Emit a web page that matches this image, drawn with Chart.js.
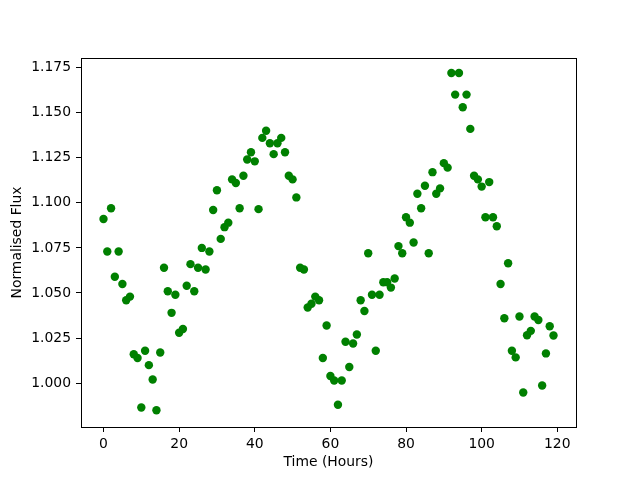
<!DOCTYPE html>
<html>
<head>
<meta charset="utf-8">
<script src="https://cdn.jsdelivr.net/npm/chart.js@4/dist/chart.umd.min.js"></script>
<style>
  html, body { margin: 0; padding: 0; background: #ffffff; }
  canvas { display: block; }
</style>
</head>
<body>
<canvas id="c" width="640" height="480"></canvas>
<script>
// Time in hours (one sample per hour)
const hours = [];
for (let i = 0; i < 120; i++) hours.push(i);

// Normalised flux values
const flux = [
  1.091, 1.073, 1.097, 1.059, 1.073, 1.055, 1.046, 1.048, 1.016, 1.014,
  0.9865, 1.018, 1.010, 1.002, 0.985, 1.017, 1.064, 1.051, 1.039, 1.049,
  1.028, 1.030, 1.054, 1.066, 1.051, 1.064, 1.075, 1.063, 1.073, 1.096,
  1.107, 1.080, 1.0865, 1.089, 1.113, 1.111, 1.097, 1.115, 1.124, 1.128,
  1.123, 1.0965, 1.136, 1.140, 1.133, 1.127, 1.133, 1.136, 1.128, 1.115,
  1.113, 1.103, 1.064, 1.063, 1.042, 1.044, 1.048, 1.046, 1.014, 1.032,
  1.004, 1.0015, 0.988, 1.0015, 1.023, 1.009, 1.022, 1.027, 1.046, 1.040,
  1.072, 1.049, 1.018, 1.049, 1.056, 1.056, 1.053, 1.058, 1.076, 1.072,
  1.092, 1.089, 1.078, 1.105, 1.097, 1.1095, 1.072, 1.117, 1.105, 1.108,
  1.122, 1.1195, 1.172, 1.160, 1.172, 1.153, 1.160, 1.141, 1.115, 1.113,
  1.109, 1.092, 1.1115, 1.092, 1.087, 1.055, 1.036, 1.0665, 1.018, 1.0143,
  1.037, 0.9948, 1.0266, 1.029, 1.037, 1.035, 0.9987, 1.0165, 1.0316, 1.0264
];

const xTicks = [0, 20, 40, 60, 80, 100, 120];
const yTicks = [1.000, 1.025, 1.050, 1.075, 1.100, 1.125, 1.150, 1.175];

const xLabel = 'Time (Hours)';
const yLabel = 'Normalised Flux';

const points = hours.map((h, i) => ({ x: h, y: flux[i] }));

const FONT = { family: '"DejaVu Sans", sans-serif', size: 13.9 };

const frame = {
  id: 'frame',
  beforeDraw(chart) {
    const ctx = chart.ctx;
    ctx.save();
    ctx.fillStyle = '#ffffff';
    ctx.fillRect(0, 0, chart.width, chart.height);
    ctx.restore();
  },
  afterDraw(chart) {
    const a = chart.chartArea;
    const ctx = chart.ctx;
    ctx.save();
    ctx.strokeStyle = '#000000';
    ctx.lineWidth = 1;
    ctx.strokeRect(Math.round(a.left) + 0.5, Math.round(a.top) + 0.5,
                   Math.round(a.right - a.left), Math.round(a.bottom - a.top));
    ctx.restore();
  }
};

new Chart(document.getElementById('c'), {
  type: 'scatter',
  data: {
    datasets: [{
      data: points,
      backgroundColor: '#008000',
      borderColor: '#008000',
      pointRadius: 4.2,
      pointBorderWidth: 0,
      pointHoverRadius: 4.2
    }]
  },
  options: {
    responsive: false,
    animation: false,
    events: [],
    layout: { padding: { top: 58, right: 64, left: 0, bottom: 0 } },
    plugins: { legend: { display: false }, tooltip: { enabled: false } },
    scales: {
      x: {
        type: 'linear',
        min: -5.95,
        max: 124.95,
        afterBuildTicks: (s) => { s.ticks = xTicks.map(v => ({ value: v })); },
        afterFit: (s) => { s.height = 53; },
        ticks: {
          color: '#000000', font: FONT, padding: 4, maxRotation: 0, autoSkip: false,
          callback: (v) => String(v)
        },
        grid: {
          drawOnChartArea: false, drawTicks: true, tickLength: 5,
          tickColor: '#000000', tickWidth: 1
        },
        border: { display: true, color: '#000000', width: 1 },
        title: { display: true, text: xLabel, color: '#000000', font: FONT, padding: { top: 0, bottom: 9 } }
      },
      y: {
        type: 'linear',
        min: 0.9757,
        max: 1.1803,
        afterBuildTicks: (s) => { s.ticks = yTicks.map(v => ({ value: v })); },
        afterFit: (s) => { s.width = 81; },
        ticks: {
          color: '#000000', font: FONT, padding: 5, autoSkip: false,
          callback: (v) => Number(v).toFixed(3)
        },
        grid: {
          drawOnChartArea: false, drawTicks: true, tickLength: 5,
          tickColor: '#000000', tickWidth: 1
        },
        border: { display: true, color: '#000000', width: 1 },
        title: { display: true, text: yLabel, color: '#000000', font: FONT, padding: { top: 9, bottom: 0 } }
      }
    }
  },
  plugins: [frame]
});
</script>
</body>
</html>
